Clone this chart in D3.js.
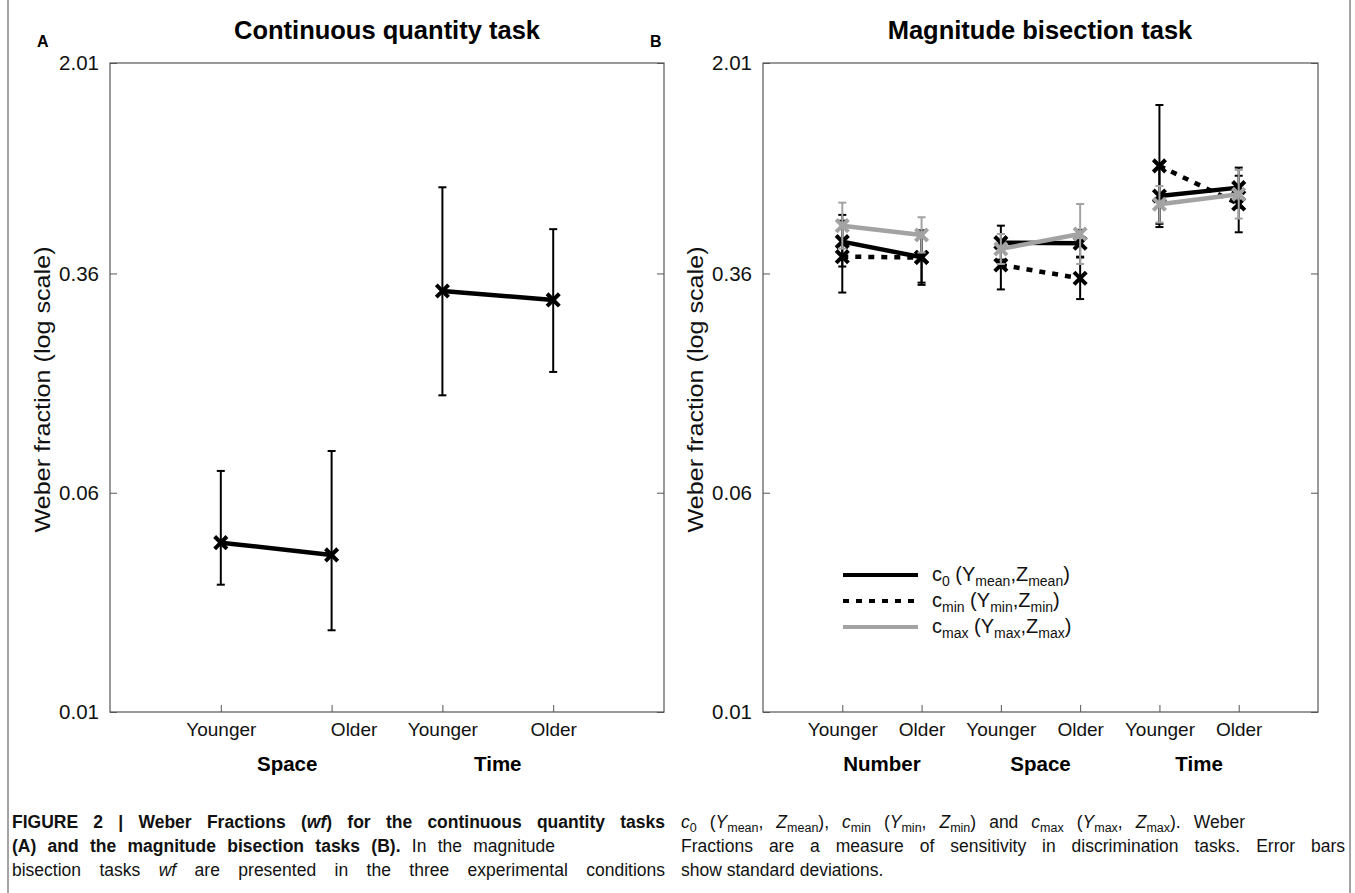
<!DOCTYPE html>
<html><head><meta charset="utf-8">
<script src="https://cdnjs.cloudflare.com/ajax/libs/d3/7.8.5/d3.min.js"></script>
<style>body{margin:0;background:#fff;}svg{display:block;font-family:"Liberation Sans",Arial,sans-serif;}</style>
</head><body><svg id="c" width="1355" height="893"></svg>
<script>
// ---- data ----
const yTicks = [0.01, 0.06, 0.36, 2.01];
const ageLabels = ["Younger", "Older"];
// Panel A
const groupsA = ["Space", "Time"];
const meanA  = [0.0399, 0.0361, 0.312, 0.290];
const lowerA = [0.0283, 0.0195, 0.133, 0.161];
const upperA = [0.0717, 0.0844, 0.728, 0.517];
// Panel B (order: Number Y, Number O, Space Y, Space O, Time Y, Time O)
const groupsB = ["Number", "Space", "Time"];
const seriesNames = ["c0", "cmin", "cmax"];
const c0Mean   = [0.467, 0.411, 0.463, 0.461, 0.678, 0.726];
const c0Lower  = [0.381, 0.334, 0.403, 0.413, 0.540, 0.616];
const c0Upper  = [0.581, 0.505, 0.532, 0.514, 0.852, 0.855];
const cminMean  = [0.413, 0.410, 0.386, 0.346, 0.867, 0.635];
const cminLower = [0.308, 0.328, 0.316, 0.292, 0.526, 0.504];
const cminUpper = [0.554, 0.512, 0.471, 0.410, 1.426, 0.800];
const cmaxMean  = [0.532, 0.493, 0.440, 0.497, 0.634, 0.688];
const cmaxLower = [0.441, 0.427, 0.389, 0.389, 0.546, 0.564];
const cmaxUpper = [0.642, 0.570, 0.497, 0.635, 0.736, 0.839];

const svg = d3.select("#c");
const yTop = 63, yBot = 712;
const y = d3.scaleLog().domain([0.01, 2.01]).range([yBot, yTop]);

// page border lines
svg.append("line").attr("x1",8).attr("x2",8).attr("y1",0).attr("y2",893).attr("stroke","#666").attr("stroke-width",1.2);
svg.append("line").attr("x1",1350).attr("x2",1350).attr("y1",0).attr("y2",893).attr("stroke","#666").attr("stroke-width",1.2);

function frame(x0, x1, nCat, labelShift) {
  const g = svg.append("g");
  const x = d3.scaleLinear().domain([0, nCat + 1]).range([x0, x1]);
  g.append("rect").attr("x", x0).attr("y", yTop).attr("width", x1 - x0).attr("height", yBot - yTop)
    .attr("fill", "none").attr("stroke", "#555").attr("stroke-width", 1.2);
  const yl = d3.axisLeft(y).tickValues(yTicks).tickFormat(d => d3.format(".2f")(d)).tickSize(-7).tickPadding(11);
  const ya = g.append("g").attr("transform", `translate(${x0},0)`).call(yl);
  ya.select(".domain").remove();
  ya.selectAll("line").attr("stroke", "#555");
  ya.selectAll("text").attr("font-size", 20.5).attr("fill", "#111").attr("font-family", "Liberation Sans, Arial");
  const yr = d3.axisRight(y).tickValues(yTicks).tickFormat("").tickSize(-7);
  const yb = g.append("g").attr("transform", `translate(${x1},0)`).call(yr);
  yb.select(".domain").remove();
  yb.selectAll("line").attr("stroke", "#555");
  const ticks = d3.range(1, nCat + 1);
  const xa = d3.axisBottom(x).tickValues(ticks).tickFormat((d, i) => ageLabels[i % 2]).tickSize(-7).tickPadding(11);
  const xg = g.append("g").attr("transform", `translate(0,${yBot})`).call(xa);
  xg.select(".domain").remove();
  xg.selectAll("line").attr("stroke", "#555");
  xg.selectAll("text").attr("font-size", 19).attr("fill", "#111").attr("font-family", "Liberation Sans, Arial")
    .attr("dx", (d, i) => labelShift[i] || 0);
  g.append("text").attr("transform", `translate(${x0 - 60},${(yTop + yBot) / 2 + 2}) rotate(-90)`)
    .attr("text-anchor", "middle").attr("font-size", 22).attr("fill", "#111")
    .attr("textLength", 286).attr("lengthAdjust", "spacingAndGlyphs").text("Weber fraction (log scale)");
  return x;
}

const xA = frame(110, 664, 4, [0, 22, 0, 0]);
const xB = frame(763, 1318, 6, []);

// titles
svg.append("text").attr("x", 387).attr("y", 39).attr("text-anchor", "middle").attr("font-weight", "bold").attr("font-size", 25.5).text("Continuous quantity task");
svg.append("text").attr("x", 1040).attr("y", 39).attr("text-anchor", "middle").attr("font-weight", "bold").attr("font-size", 25.5).text("Magnitude bisection task");
svg.append("text").attr("x", 37).attr("y", 47).attr("font-weight", "bold").attr("font-size", 16).text("A");
svg.append("text").attr("x", 650).attr("y", 47).attr("font-weight", "bold").attr("font-size", 16).text("B");

// group labels
groupsA.forEach((gname, i) => {
  const off = i === 0 ? 11 : 0;
  svg.append("text").attr("x", (xA(2 * i + 1) + xA(2 * i + 2)) / 2 + off).attr("y", 771).attr("text-anchor", "middle")
    .attr("font-weight", "bold").attr("font-size", 20.5).text(gname);
});
groupsB.forEach((gname, i) => {
  svg.append("text").attr("x", (xB(2 * i + 1) + xB(2 * i + 2)) / 2).attr("y", 771).attr("text-anchor", "middle")
    .attr("font-weight", "bold").attr("font-size", 20.5).text(gname);
});

const xSym = d3.symbol().type(d3.symbolX).size(100);

function drawSeries(xs, means, lows, ups, color, dash, pairs) {
  const g = svg.append("g");
  means.forEach((m, i) => {
    const cx = xs(i + 1);
    g.append("line").attr("x1", cx).attr("x2", cx).attr("y1", y(lows[i])).attr("y2", y(ups[i])).attr("stroke", color).attr("stroke-width", 2);
    [lows[i], ups[i]].forEach(v => g.append("line").attr("x1", cx - 4).attr("x2", cx + 4).attr("y1", y(v)).attr("y2", y(v)).attr("stroke", color).attr("stroke-width", 2));
  });
  const line = d3.line().x(d => xs(d.i + 1)).y(d => y(d.v));
  pairs.forEach(p => {
    g.append("path").attr("d", line(p.map(i => ({ i, v: means[i] })))).attr("fill", "none").attr("stroke", color)
      .attr("stroke-width", 4.5).attr("stroke-dasharray", dash);
  });
  means.forEach((m, i) => {
    g.append("path").attr("d", xSym).attr("transform", `translate(${xs(i + 1)},${y(m)})`).attr("fill", "none").attr("stroke", color).attr("stroke-width", 4);
  });
}

drawSeries(xA, meanA, lowerA, upperA, "#000", null, [[0, 1], [2, 3]]);
const pairsB = [[0, 1], [2, 3], [4, 5]];
drawSeries(xB, c0Mean, c0Lower, c0Upper, "#000", null, pairsB);
drawSeries(xB, cminMean, cminLower, cminUpper, "#000", "6,7", pairsB);
drawSeries(xB, cmaxMean, cmaxLower, cmaxUpper, "#a3a3a3", null, pairsB);

// legend
const legY = [575, 601, 627];
const legStyle = [{ c: "#000", d: null }, { c: "#000", d: "6,7" }, { c: "#a3a3a3", d: null }];
const legSub = [["0", "mean"], ["min", "min"], ["max", "max"]];
legY.forEach((ly, i) => {
  svg.append("line").attr("x1", 843).attr("x2", 918).attr("y1", ly).attr("y2", ly).attr("stroke", legStyle[i].c)
    .attr("stroke-width", 4).attr("stroke-dasharray", legStyle[i].d);
  const t = svg.append("text").attr("x", 932).attr("y", ly + 6).attr("font-size", 20).attr("fill", "#111");
  t.append("tspan").text("c");
  t.append("tspan").attr("font-size", 14).attr("dy", 5).text(legSub[i][0]);
  t.append("tspan").attr("dy", -5).text(" (Y");
  t.append("tspan").attr("font-size", 14).attr("dy", 5).text(legSub[i][1]);
  t.append("tspan").attr("dy", -5).text(",Z");
  t.append("tspan").attr("font-size", 14).attr("dy", 5).text(legSub[i][1]);
  t.append("tspan").attr("dy", -5).text(")");
});

// caption
function capLine(x, yy, parts, width) {
  const t = svg.append("text").attr("x", x).attr("y", yy).attr("font-size", 17.5).attr("fill", "#111");
  let full = "";
  parts.forEach(p => {
    const s = t.append("tspan").text(p.t);
    full += p.t;
    if (p.b) s.attr("font-weight", "bold");
    if (p.i) s.attr("font-style", "italic");
    if (p.sub) s.attr("font-size", 12.5).attr("dy", 4);
    if (p.up) s.attr("dy", -4);
  });
  if (width) {
    const nat = t.node().getComputedTextLength();
    const nSp = (full.match(/ /g) || []).length;
    if (nSp > 0) t.attr("word-spacing", Math.max(0, (width - nat) / nSp));
  }
}
capLine(12, 828, [{ t: "FIGURE 2 | Weber Fractions (", b: 1 }, { t: "wf", b: 1, i: 1 }, { t: ") for the continuous quantity tasks", b: 1 }], 653);
capLine(12, 852, [{ t: "(A) and the magnitude bisection tasks (B).", b: 1 }, { t: " In the magnitude" }], 543);
capLine(12, 876, [{ t: "bisection tasks " }, { t: "wf", i: 1 }, { t: " are presented in the three experimental conditions" }], 653);
capLine(681, 828, [{ t: "c", i: 1 }, { t: "0", sub: 1 }, { t: " (", up: 1 }, { t: "Y", i: 1 }, { t: "mean", sub: 1 }, { t: ", ", up: 1 }, { t: "Z", i: 1 }, { t: "mean", sub: 1 }, { t: "), ", up: 1 },
  { t: "c", i: 1 }, { t: "min", sub: 1 }, { t: " (", up: 1 }, { t: "Y", i: 1 }, { t: "min", sub: 1 }, { t: ", ", up: 1 }, { t: "Z", i: 1 }, { t: "min", sub: 1 }, { t: ") and ", up: 1 },
  { t: "c", i: 1 }, { t: "max", sub: 1 }, { t: " (", up: 1 }, { t: "Y", i: 1 }, { t: "max", sub: 1 }, { t: ", ", up: 1 }, { t: "Z", i: 1 }, { t: "max", sub: 1 }, { t: "). Weber", up: 1 }], 564);
capLine(681, 852, [{ t: "Fractions are a measure of sensitivity in discrimination tasks. Error bars" }], 664);
capLine(681, 876, [{ t: "show standard deviations." }]);
</script></body></html>
